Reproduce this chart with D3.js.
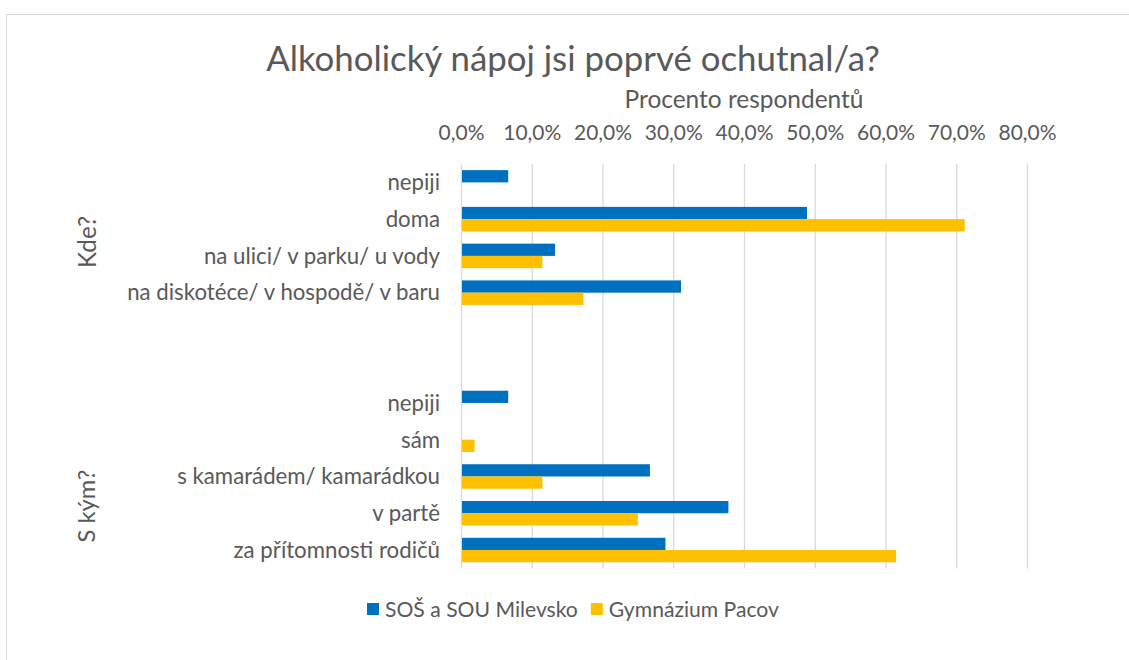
<!DOCTYPE html>
<html><head><meta charset="utf-8">
<script src="https://cdn.jsdelivr.net/npm/d3@7"></script>
<style>
html,body{margin:0;padding:0;background:#fff;}
svg text{font-family:Lato, "Open Sans", sans-serif;fill:#595959;}
</style></head>
<body>
<svg id="c" width="1129" height="660"></svg>
<script>
const categories = ["nepiji","doma","na ulici/ v parku/ u vody","na diskotéce/ v hospodě/ v baru","_blank1","_blank2","nepiji ","sám","s kamarádem/ kamarádkou","v partě","za přítomnosti rodičů"];
const seriesNames = ["SOŠ a SOU Milevsko","Gymnázium Pacov"];
const milevsko = [0.0667,0.489,0.133,0.311,null,null,0.0667,0,0.267,0.378,0.289];
const pacov = [0,0.712,0.115,0.173,null,null,0,0.0192,0.115,0.25,0.615];
const tickValues = [0,0.1,0.2,0.3,0.4,0.5,0.6,0.7,0.8];
const groups = [{name:"Kde?", y:242, w:52},{name:"S kým?", y:506, w:73}];
const colors = ["#0070C0","#FFC000"];

const svg = d3.select("#c");
svg.append("rect").attr("x",6.5).attr("y",14.5).attr("width",1200).attr("height",800)
  .attr("fill","none").attr("stroke","#d9d9d9").attr("stroke-width",1);

// fit helper: scale font size so that a text reaches target width
function fitSize(text, target, base){
  const t = svg.append("text").attr("font-size",base).text(text);
  const w = t.node().getComputedTextLength();
  t.remove();
  return base*target/w;
}

const x = d3.scaleLinear().domain([0,0.8]).range([461,1027]);
const y = d3.scaleBand().domain(categories).range([164,568.4]).paddingInner(0).paddingOuter(0);
const ySub = d3.scaleBand().domain([0,1]).range([0,y.bandwidth()]).paddingOuter(0.5).paddingInner(0);

// gridlines
svg.append("g").selectAll("line").data(tickValues).join("line")
  .attr("x1",d=>x(d)+0.5).attr("x2",d=>x(d)+0.5)
  .attr("y1",164).attr("y2",568.4)
  .attr("stroke","#d9d9d9").attr("stroke-width",1.3);

// top axis labels
const fmt = d=>d3.format(".1f")(d*100).replace(".",",")+"%";
const tickSize = fitSize("80,0%",58,20);
const ax = d3.axisTop(x).tickValues(tickValues).tickSize(0).tickPadding(0).tickFormat(fmt);
const axg = svg.append("g").attr("transform","translate(0,133)").call(ax);
axg.select(".domain").remove();
axg.selectAll("text").attr("font-size",tickSize).attr("fill","#595959")
  .attr("dy","0.35em").attr("y",0).style("font-family","Lato, sans-serif");

// bars
const data = categories.map((c,i)=>({c, vals:[milevsko[i],pacov[i]]}));
const gBars = svg.append("g");
data.forEach(d=>{
  d.vals.forEach((v,j)=>{
    if(v==null || v===0) return;
    gBars.append("rect")
      .attr("x",x(0)+1).attr("y",y(d.c)+ySub(j))
      .attr("width",x(v)-x(0)-1).attr("height",ySub.bandwidth())
      .attr("fill",colors[j]);
  });
});

// category labels
const catSize = fitSize("na diskotéce/ v hospodě/ v baru",313,20);
svg.append("g").selectAll("text").data(categories.filter(c=>!c.startsWith("_"))).join("text")
  .attr("x",440).attr("y",c=>y(c)+y.bandwidth()/2).attr("dy","0.35em")
  .attr("text-anchor","end").attr("font-size",catSize).text(c=>c.trim());

// group labels
svg.append("g").selectAll("text").data(groups).join("text")
  .attr("transform",d=>`translate(87,${d.y}) rotate(-90)`)
  .attr("dy","0.35em")
  .attr("text-anchor","middle").attr("font-size",d=>fitSize(d.name,d.w,20)).text(d=>d.name);

// title
svg.append("text").attr("x",573).attr("y",59).attr("dy","0.35em").attr("text-anchor","middle")
  .attr("font-size",fitSize("Alkoholický nápoj jsi poprvé ochutnal/a?",614,30))
  .text("Alkoholický nápoj jsi poprvé ochutnal/a?");
svg.append("text").attr("x",744).attr("y",99).attr("dy","0.35em").attr("text-anchor","middle")
  .attr("font-size",fitSize("Procento respondentů",239,20)).text("Procento respondentů");

// legend
const legSize = fitSize(seriesNames[0],193,20);
const leg = svg.append("g");
let lx = 367;
seriesNames.forEach((n,i)=>{
  leg.append("rect").attr("x",lx).attr("y",603).attr("width",12).attr("height",12).attr("fill",colors[i]);
  const t = leg.append("text").attr("x",lx+18).attr("y",609.5).attr("dy","0.35em").attr("font-size",legSize).text(n);
  lx = lx + 18 + t.node().getComputedTextLength() + 13;
});
</script>
</body></html>
